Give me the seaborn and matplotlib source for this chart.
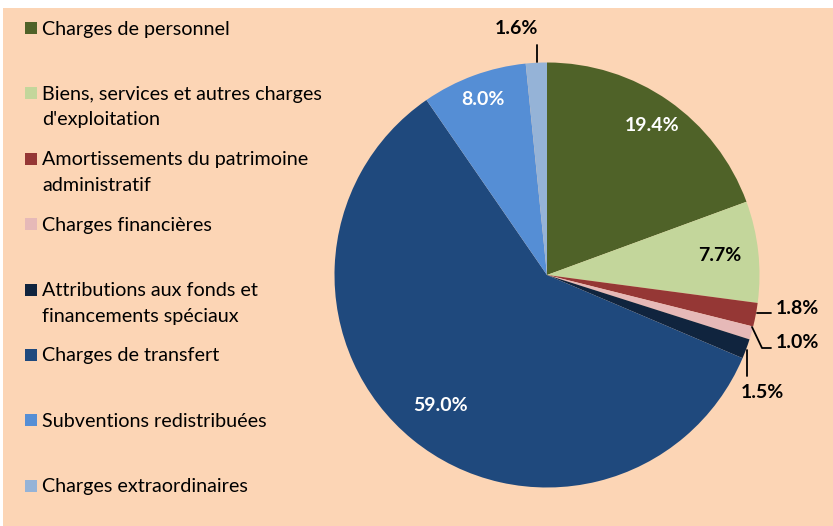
import matplotlib
matplotlib.use("Agg")
import matplotlib.pyplot as plt
import seaborn as sns
import numpy as np
from matplotlib.patches import Rectangle

categories = ["Charges de personnel",
              "Biens, services et autres charges\nd'exploitation",
              "Amortissements du patrimoine\nadministratif",
              "Charges financières",
              "Attributions aux fonds et\nfinancements spéciaux",
              "Charges de transfert",
              "Subventions redistribuées",
              "Charges extraordinaires"]
shares = [19.4, 7.7, 1.8, 1.0, 1.5, 59.0, 8.0, 1.6]
labels = ["19.4%", "7.7%", "1.8%", "1.0%", "1.5%", "59.0%", "8.0%", "1.6%"]

colors = sns.color_palette(["#4F6228", "#C3D69B", "#953735", "#E6B9B8",
                            "#10243E", "#1F497D", "#558ED5", "#95B3D7"])

sns.set_style("white")
plt.rcParams["font.family"] = ["Lato", "DejaVu Sans"]

W, H = 833, 526
fig = plt.figure(figsize=(W / 100, H / 100), dpi=100, facecolor="white")
fig.patches.append(Rectangle((3 / W, 0), 1, (H - 8) / H, transform=fig.transFigure,
                             facecolor="#FCD5B5", edgecolor="none", zorder=-5))

# axes covering the whole figure, pie centre at (547, 275) px, radius 212.5 px
R = 212.5
cx, cy = 547, 275
ax = fig.add_axes([0, 0, 1, 1])
ax.patch.set_alpha(0)
wedges, _ = ax.pie(shares, colors=colors, startangle=90, counterclock=False,
                   radius=1, wedgeprops=dict(linewidth=0))
ax.set_aspect("auto")
ax.set_xlim(-cx / R, (W - cx) / R)
ax.set_ylim(-(H - cy) / R, cy / R)
ax.axis("off")

# inside labels
inside = {0: (0.86, "white"), 1: (0.82, "black"), 5: (0.79, "white"), 6: (0.88, "white")}
for i, (r, c) in inside.items():
    w = wedges[i]
    ang = np.deg2rad((w.theta1 + w.theta2) / 2)
    ax.text(r * np.cos(ang), r * np.sin(ang), labels[i], color=c, fontsize=14,
            fontweight="bold", ha="center", va="center")

def px(x, y):
    return (x - cx) / R, (cy - y) / R

# outside labels with leader lines
lead = {7: ([(537, 62), (537, 45)], (516, 29)),
        2: ([(757, 313), (771, 313)], (797, 308)),
        3: ([(752, 327), (762, 348), (771, 348)], (797, 343)),
        4: ([(747, 350), (747, 376)], (762, 392))}
for i, (pts, tp) in lead.items():
    xy = np.array([px(*p) for p in pts])
    ax.plot(xy[:, 0], xy[:, 1], color="black", lw=1.3)
    ax.text(*px(*tp), labels[i], color="black", fontsize=14, fontweight="bold",
            ha="center", va="center")

# legend
for k, (name, col) in enumerate(zip(categories, colors)):
    y0 = 28 + k * 65.4
    fig.patches.append(Rectangle((25 / W, 1 - (y0 + 6) / H), 12 / W, 12 / H,
                                 transform=fig.transFigure, facecolor=col,
                                 edgecolor="none"))
    for j, line in enumerate(name.split("\n")):
        fig.text(42 / W, 1 - (y0 + 1 + j * 25.5) / H, line, fontsize=14.2,
                 ha="left", va="center", color="black")

fig.savefig("out.png", dpi=100, facecolor=fig.get_facecolor())
